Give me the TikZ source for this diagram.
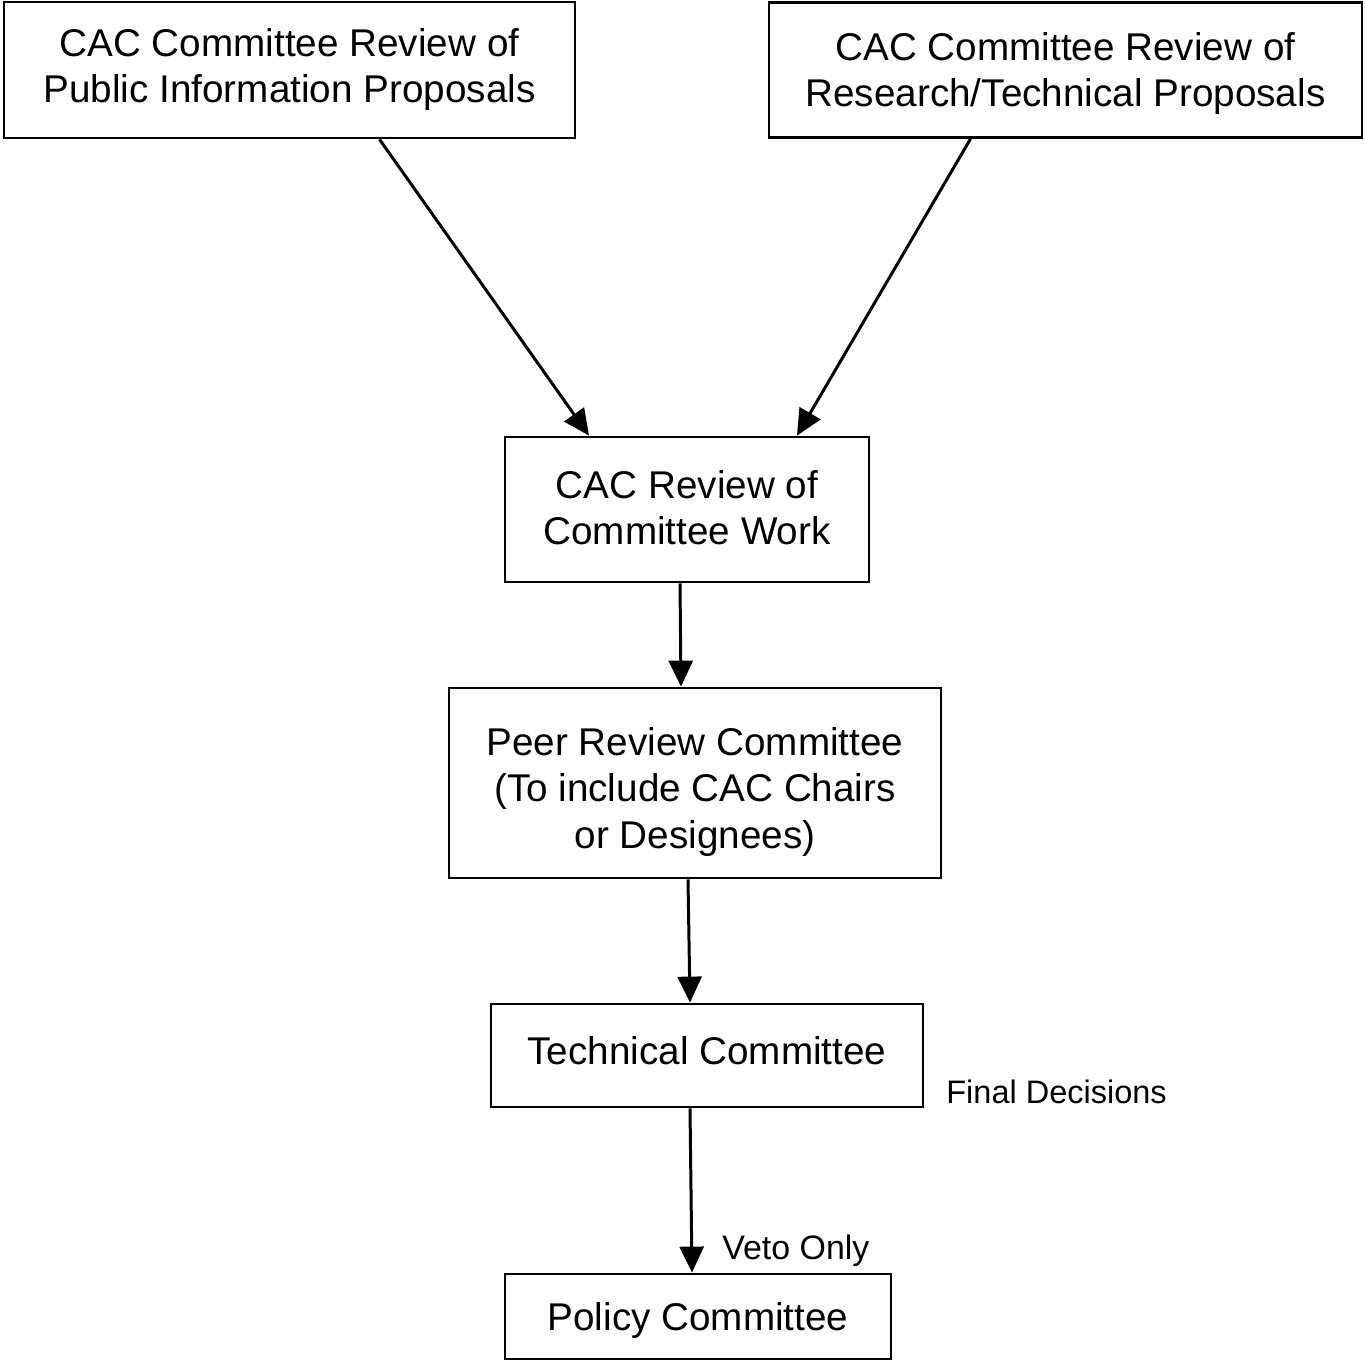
\documentclass[tikz,border=0pt]{standalone}
\usepackage{fontspec}
\setmainfont{Liberation Sans}
\usetikzlibrary{arrows.meta,calc}

% lines of a box, lowered by the optional amount
\newcommand{\boxtext}[2][0pt]{\vphantom{\begin{tabular}{@{}c@{}}#2\end{tabular}}%
  \smash{\raisebox{-#1}{\begin{tabular}{@{}c@{}}#2\end{tabular}}}}

\tikzset{
  stagebox/.style={draw, line width=1.6pt, align=center, inner sep=0pt,
    font=\fontsize{22}{26.4}\selectfont},
  flowarrow/.style={line width=1.7pt, -{Triangle[length=5.2mm,width=4.8mm]}},
  sidenote/.style={anchor=west, inner sep=0pt, font=\fontsize{18.5}{22}\selectfont},
}

\begin{document}
\begin{tikzpicture}[x=0.02cm, y=-0.02cm]
  \useasboundingbox (0,0) rectangle (1365,1361);

  %% proposals
  \node[stagebox, minimum width=11.42cm, minimum height=2.72cm] (pubinfo) at (289.5,70)
    {\boxtext{CAC Committee Review of\\Public Information Proposals}};
  \node[stagebox, minimum width=11.86cm, minimum height=2.7cm] (restech) at (1065.5,70)
    {\boxtext[0.08cm]{CAC Committee Review of\\Research/Technical Proposals}};

  %% review chain
  \node[stagebox, minimum width=7.28cm, minimum height=2.9cm] (cacrev) at (687,509.5)
    {\boxtext[0.05cm]{CAC Review of\\Committee Work}};
  \node[stagebox, minimum width=9.84cm, minimum height=3.8cm] (peerrev) at (695,783)
    {\boxtext[0.19cm]{Peer Review Committee\\(To include CAC Chairs\\or Designees)}};
  \node[stagebox, minimum width=8.64cm, minimum height=2.06cm] (techcom) at (707,1055.5)
    {\boxtext{Technical Committee}};
  \node[stagebox, minimum width=7.72cm, minimum height=1.7cm] (polcom) at (698,1316.5)
    {\boxtext[0.1cm]{Policy Committee}};

  %% side notes
  \node[sidenote] (final) at (946,1092) {Final Decisions};
  \node[sidenote, font=\fontsize{19.3}{22}\selectfont] (veto) at (722,1251) {Veto Only};

  %% arrows
  \draw[flowarrow] ($(pubinfo.south)+(90,0)$) -- ($(cacrev.north)+(-98,0)$);
  \draw[flowarrow] ($(restech.south)+(-95,0)$) -- ($(cacrev.north)+(110,0)$);
  \draw[flowarrow] ($(cacrev.south)+(-7,0)$) -- ($(peerrev.north)+(-14,0)$);
  \draw[flowarrow] ($(peerrev.south)+(-7,0)$) -- ($(techcom.north)+(-17,0)$);
  \draw[flowarrow] ($(techcom.south)+(-17,0)$) -- ($(polcom.north)+(-6,0)$);

\end{tikzpicture}
\end{document}
